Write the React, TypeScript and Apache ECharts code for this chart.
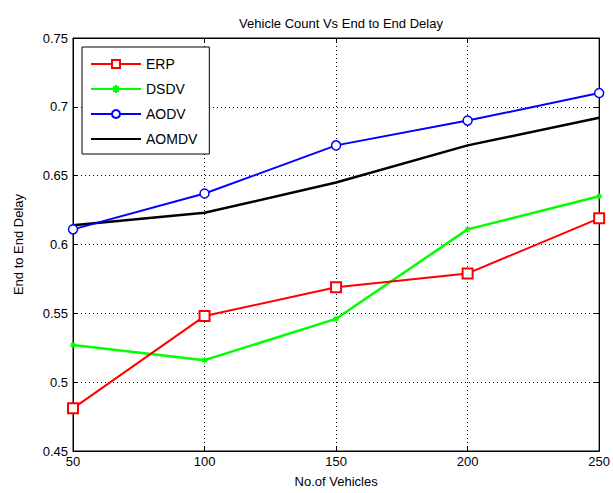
import React, { useEffect, useRef } from "react";
import * as echarts from "echarts";

const categories = [50, 100, 150, 200, 250];
const erp = [0.481, 0.548, 0.569, 0.579, 0.619];
const dsdv = [0.527, 0.516, 0.546, 0.611, 0.635];
const aodv = [0.611, 0.637, 0.672, 0.69, 0.71];
const aomdv = [0.614, 0.623, 0.645, 0.672, 0.692];
const yTicks = [0.45, 0.5, 0.55, 0.6, 0.65, 0.7, 0.75];

const FONT = "Liberation Sans, Arial, sans-serif";
const STAR = "path://M0,5L10,5M5,0L5,10M1.5,1.5L8.5,8.5M8.5,1.5L1.5,8.5";

export default function App() {
  const ref = useRef<HTMLDivElement>(null);
  useEffect(() => {
    document.body.style.margin = "0";
    const chart = echarts.init(ref.current!, undefined, { renderer: "svg" });
    const pair = (arr: number[]) => categories.map((c, i) => [c, arr[i]]);
    const tickStyle = { show: true, inside: true, length: 5, lineStyle: { color: "#000" } };
    chart.setOption({
      animation: false,
      backgroundColor: "#fff",
      title: {
        text: "Vehicle Count Vs End to End Delay",
        left: 336,
        textAlign: "center",
        top: 12,
        textStyle: { fontFamily: FONT, fontSize: 13, fontWeight: "normal", color: "#000" },
      },
      legend: {
        orient: "vertical",
        left: 82,
        top: 47,
        padding: [10, 12, 8, 8],
        itemWidth: 50,
        itemHeight: 10,
        itemGap: 11,
        backgroundColor: "#fff",
        borderColor: "#000",
        borderWidth: 1,
        borderRadius: 0,
        textStyle: { fontFamily: FONT, fontSize: 14, color: "#000" },
        data: [
          "ERP",
          "DSDV",
          "AODV",
          { name: "AOMDV", itemStyle: { opacity: 0 } },
        ],
      },
      grid: {
        left: 73,
        right: 13,
        top: 38,
        bottom: 42,
        show: true,
        borderColor: "#000",
        borderWidth: 1,
        backgroundColor: "#fff",
      },
      xAxis: [
        {
          type: "value",
          min: 50,
          max: 250,
          interval: 50,
          name: "No.of Vehicles",
          nameLocation: "middle",
          nameGap: 24,
          nameTextStyle: { fontFamily: FONT, fontSize: 13, color: "#000" },
          axisLine: { show: true, lineStyle: { color: "#000" } },
          axisTick: tickStyle,
          axisLabel: { fontFamily: FONT, fontSize: 13, color: "#000", margin: 4 },
          splitLine: { show: true, lineStyle: { color: "#000", type: [1, 3], width: 1 } },
        },
        {
          type: "value",
          position: "top",
          min: 50,
          max: 250,
          interval: 50,
          axisLine: { show: true, lineStyle: { color: "#000" } },
          axisTick: tickStyle,
          axisLabel: { show: false },
          splitLine: { show: false },
        },
      ],
      yAxis: [
        {
          type: "value",
          min: 0.45,
          max: 0.75,
          interval: 0.05,
          name: "End to End Delay",
          nameLocation: "middle",
          nameGap: 48,
          nameTextStyle: { fontFamily: FONT, fontSize: 13, color: "#000" },
          axisLine: { show: true, lineStyle: { color: "#000" } },
          axisTick: tickStyle,
          axisLabel: {
            fontFamily: FONT,
            fontSize: 13,
            color: "#000",
            margin: 5,
            formatter: (v: number) => {
              const t = yTicks.find((y) => Math.abs(y - v) < 1e-6);
              return t !== undefined ? String(t) : "";
            },
          },
          splitLine: { show: true, lineStyle: { color: "#000", type: [1, 3], width: 1 } },
        },
        {
          type: "value",
          position: "right",
          min: 0.45,
          max: 0.75,
          interval: 0.05,
          axisLine: { show: true, lineStyle: { color: "#000" } },
          axisTick: tickStyle,
          axisLabel: { show: false },
          splitLine: { show: false },
        },
      ],
      series: [
        {
          name: "ERP",
          type: "line",
          data: pair(erp),
          symbol: "rect",
          symbolSize: 10,
          lineStyle: { color: "#ff0000", width: 2 },
          itemStyle: { color: "#fff", borderColor: "#ff0000", borderWidth: 2 },
          z: 4,
        },
        {
          name: "DSDV",
          type: "line",
          data: pair(dsdv),
          symbol: STAR,
          symbolSize: 6,
          lineStyle: { color: "#00ff00", width: 2.5 },
          itemStyle: { color: "#00ff00", borderColor: "#00ff00", borderWidth: 1.2 },
          z: 3,
        },
        {
          name: "AODV",
          type: "line",
          data: pair(aodv),
          symbol: "circle",
          symbolSize: 9,
          lineStyle: { color: "#0000ff", width: 2 },
          itemStyle: { color: "#fff", borderColor: "#0000ff", borderWidth: 1.5 },
          z: 3,
        },
        {
          name: "AOMDV",
          type: "line",
          data: pair(aomdv),
          symbol: "circle",
          showSymbol: false,
          lineStyle: { color: "#000", width: 2.5 },
          itemStyle: { color: "#000" },
          z: 2,
        },
      ],
    });
    return () => chart.dispose();
  }, []);
  return <div ref={ref} style={{ width: 613, height: 493 }} />;
}
